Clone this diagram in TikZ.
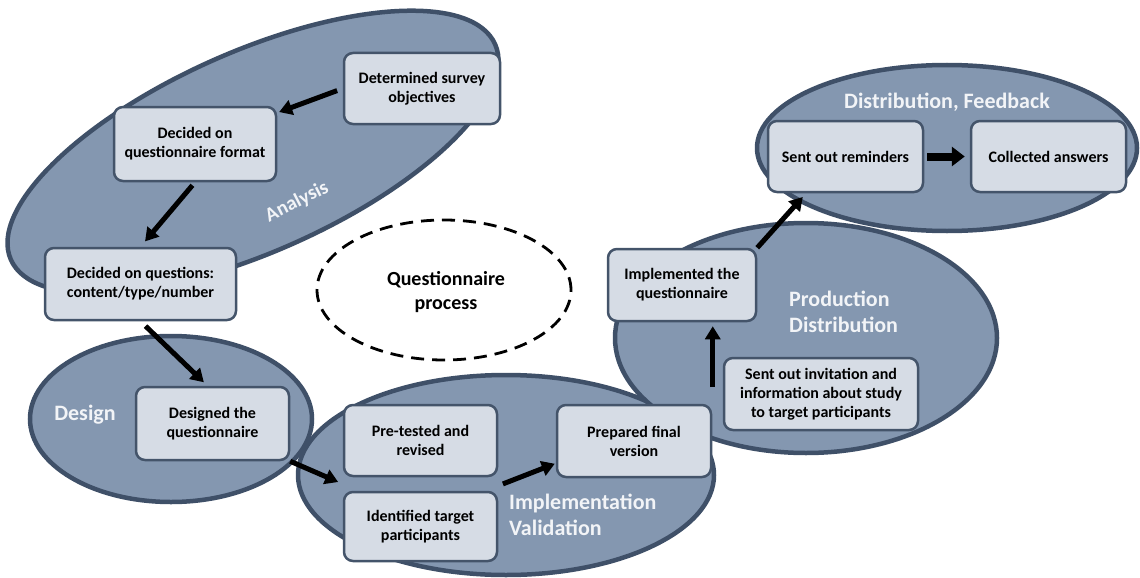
\documentclass[tikz,border=0pt]{standalone}
\usepackage{fontspec}
\setmainfont{Carlito}
\usetikzlibrary{arrows.meta,calc}
\definecolor{ellfill}{HTML}{8497B0}
\definecolor{elldraw}{HTML}{3F5068}
\definecolor{boxfill}{HTML}{D6DCE5}
\definecolor{boxdraw}{HTML}{44546A}
\definecolor{lbl}{HTML}{F2F4F7}
\begin{document}
\begin{tikzpicture}[x=1pt,y=1pt,
  phase/.style={draw=elldraw, fill=ellfill, line width=4.5pt},
  stepbox/.style={rectangle, rounded corners=9pt, draw=boxdraw, fill=boxfill,
    line width=2.5pt, inner sep=0pt, align=center,
    font=\bfseries\fontsize{16}{19}\selectfont},
  phaselabel/.style={text=lbl, inner sep=0pt, font=\bfseries\fontsize{22}{26}\selectfont},
  flow/.style={-{Triangle[length=13pt,width=15pt]}, line width=5pt, black},
  blockflow/.style={-{Triangle[length=13pt,width=19pt]}, line width=8pt, black}]
\useasboundingbox (0,0) rectangle (1140,-578);

% phase ellipses
\path[phase] (171,-419) ellipse [x radius=141pt, y radius=83pt];
\path[phase] (506,-475) ellipse [x radius=208pt, y radius=100pt];
\path[phase] (806,-338) ellipse [x radius=191pt, y radius=115pt];
\path[phase] (947,-148) ellipse [x radius=190pt, y radius=83pt];
\path[phase, rotate around={24:(253,-152)}] (253,-152) ellipse [x radius=265pt, y radius=100pt];

% centre dashed ellipse
\draw[line width=2.8pt, dash pattern=on 13pt off 8pt] (444,-290) ellipse [x radius=127pt, y radius=70pt];
\node[align=center, inner sep=0pt, font=\bfseries\fontsize{20}{24}\selectfont] (qp) at (446,-292) {Questionnaire\\process};

% phase labels
\node[phaselabel, rotate=27, font=\bfseries\fontsize{20}{24}\selectfont] (lana) at (297,-202) {Analysis};
\node[phaselabel] (ldes) at (85,-415) {Design};
\node[phaselabel, anchor=west, align=left] (limp) at (509,-515) {Implementation\\Validation};
\node[phaselabel, anchor=west, align=left] (lpro) at (789,-312) {Production\\Distribution};
\node[phaselabel] (ldis) at (947,-102) {Distribution, Feedback};

% boxes
\node[stepbox, minimum width=156pt, minimum height=71pt] (det) at (422,-88.5) {Determined survey\\objectives};
\node[stepbox, minimum width=162pt, minimum height=74pt] (fmt) at (195,-144) {Decided on\\questionnaire format};
\node[stepbox, minimum width=191pt, minimum height=72pt] (q) at (140.5,-284) {Decided on questions:\\content/type/number};
\node[stepbox, minimum width=153pt, minimum height=73pt] (des) at (212.5,-423.5) {Designed the\\questionnaire};
\node[stepbox, minimum width=153pt, minimum height=71pt] (pre) at (420.5,-440.5) {Pre-tested and\\revised};
\node[stepbox, minimum width=153pt, minimum height=69pt] (idf) at (420.5,-526.5) {Identified target\\participants};
\node[stepbox, minimum width=154pt, minimum height=72pt] (prep) at (634,-441) {Prepared final\\version};
\node[stepbox, minimum width=148pt, minimum height=72pt] (impl) at (682,-285) {Implemented the\\questionnaire};
\node[stepbox, minimum width=194pt, minimum height=72pt] (inv) at (821,-394) {Sent out invitation and\\information about study\\to target participants};
\node[stepbox, minimum width=155pt, minimum height=71pt] (rem) at (845.5,-156.5) {Sent out reminders};
\node[stepbox, minimum width=155pt, minimum height=71pt] (col) at (1048.5,-156.5) {Collected answers};

% arrows
\draw[flow, shorten <=6pt, shorten >=2pt] (det.west) -- ([yshift=-7pt]fmt.north east);
\draw[flow, shorten <=4pt, shorten >=7pt] (fmt.south) -- (q.north);
\draw[flow, shorten <=7pt, shorten >=5pt] (q.south) -- ([xshift=-5pt]des.north);
\draw[flow, shorten >=5pt] (des.south east) -- ($(pre.south west)!0.5!(idf.north west)$);
\draw[flow, shorten <=5pt, shorten >=1pt] ([yshift=5pt]idf.north east) -- ($(prep.west)!0.6!(prep.south west)$);
\draw[flow, shorten >=4pt] ([xshift=-10pt,yshift=7pt]inv.west) -- ([xshift=-10pt]inv.west |- impl.south);
\draw[flow, shorten >=5pt] (impl.north east) -- ($(rem.south west)!0.25!(rem.south east)$);
\draw[blockflow, shorten <=3pt, shorten >=5pt] (rem.east) -- (col.west);
\end{tikzpicture}
\end{document}
